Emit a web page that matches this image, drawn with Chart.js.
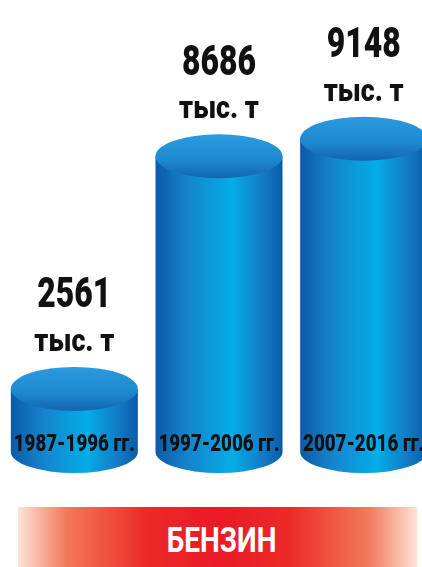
<!DOCTYPE html>
<html>
<head>
<meta charset="utf-8">
<script src="https://cdn.jsdelivr.net/npm/chart.js@4"></script>
<style>
  body { margin: 0; background: #fff; overflow: hidden; width: 422px; height: 567px; position: relative; }
  #wrap { position: absolute; left: 0; top: 0; width: 436px; height: 567px; }
  #banner {
    position: absolute; left: 18px; top: 507px; width: 399px; height: 60px;
    background: linear-gradient(to right, #fde3d8 0%, #f27a5c 12%, #ec2a28 32%, #ea1a26 50%, #ec2a28 68%, #f27a5c 88%, #fde3d8 100%);
    color: #fff; font: bold 35px Roboto, sans-serif;
    text-align: center; line-height: 68px; padding-left: 8px; box-sizing: border-box;
  }
  #banner span { display: inline-block; transform: scaleX(0.8); }
</style>
</head>
<body>
<div id="wrap"><canvas id="chart" width="436" height="567"></canvas></div>
<div id="banner"><span>БЕНЗИН</span></div>
<script>
// Данные
const periods = ['1987-1996 гг.', '1997-2006 гг.', '2007-2016 гг.'];
const values = [2561, 8686, 9148];
const unit = 'тыс. т';

// узкий жирный шрифт: Roboto, сжатый по горизонтали
function narrowText(ctx, txt, x, y, size, sx) {
  ctx.save();
  ctx.translate(x, y);
  ctx.scale(sx, 1);
  ctx.font = '900 ' + size + 'px Roboto, sans-serif';
  ctx.fillText(txt, 0, 0);
  ctx.restore();
}

// цилиндры рисуем сами поверх невидимых столбиков
const cylinders = {
  id: 'cylinders',
  afterDatasetsDraw(chart) {
    const ctx = chart.ctx;
    const base = chart.scales.y.bottom;
    const meta = chart.getDatasetMeta(0);
    meta.data.forEach((bar, i) => {
      const { x, y, width } = bar.getProps(['x', 'y', 'width'], true);
      const l = x - width / 2, r = x + width / 2, ry = 22, rb = 21;

      const side = ctx.createLinearGradient(l, 0, r, 0);
      side.addColorStop(0, '#0b5aa5');
      side.addColorStop(0.25, '#1683cc');
      side.addColorStop(0.6, '#02ade7');
      side.addColorStop(0.85, '#1479c4');
      side.addColorStop(1, '#0a5ba8');

      ctx.save();
      ctx.fillStyle = side;
      ctx.fillRect(l, y, width, base - y);
      ctx.beginPath();
      ctx.ellipse(x, base, width / 2, rb, 0, 0, Math.PI);
      ctx.fill();

      const top = ctx.createLinearGradient(0, y - ry, 0, y + ry);
      top.addColorStop(0, '#2a9ade');
      top.addColorStop(0.6, '#1d88cf');
      top.addColorStop(1, '#1464ae');
      ctx.fillStyle = top;
      ctx.beginPath();
      ctx.ellipse(x, y, width / 2, ry, 0, 0, Math.PI * 2);
      ctx.fill();

      ctx.fillStyle = '#111';
      ctx.textAlign = 'center';
      ctx.textBaseline = 'middle';
      narrowText(ctx, values[i], x, y - 92, 42, 0.76);
      narrowText(ctx, unit, x, y - 46, 32, 0.84);
      narrowText(ctx, periods[i], x, 445, 24, 0.78);
      ctx.restore();
    });
  }
};

new Chart(document.getElementById('chart'), {
  type: 'bar',
  data: {
    labels: periods,
    datasets: [{
      data: values,
      backgroundColor: 'rgba(0,0,0,0)',
      barThickness: 127
    }]
  },
  options: {
    responsive: false,
    animation: false,
    layout: { padding: { left: 2, right: 0, top: 0, bottom: 115 } },
    plugins: { legend: { display: false }, tooltip: { enabled: false } },
    scales: {
      x: { display: false },
      y: { display: false, min: 900, max: 12800 }
    }
  },
  plugins: [cylinders]
});
</script>
</body>
</html>
